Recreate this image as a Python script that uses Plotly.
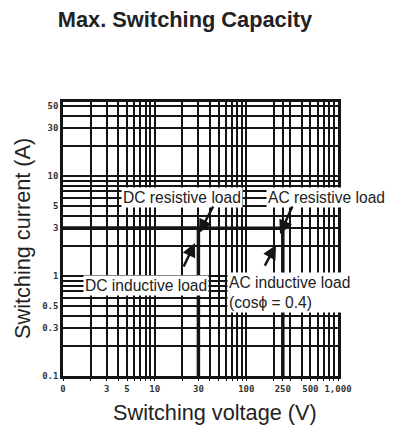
import numpy as np
import plotly.graph_objects as go

# ---- data ----
x_grid = [1, 2, 3, 4, 5, 6, 7, 8, 9, 10, 20, 30, 40, 50, 60, 70, 80, 90,
          100, 200, 250, 300, 400, 500, 600, 700, 800, 900, 1000]
x_labels = {1: "0", 3: "3", 5: "5", 10: "10", 30: "30", 100: "100",
            250: "250", 500: "500", 1000: "1,000"}
y_grid = [0.1, 0.2, 0.3, 0.4, 0.5, 0.6, 0.7, 0.8, 0.9,
          1, 2, 3, 4, 5, 6, 7, 8, 9, 10, 20, 30, 40, 50]
y_labels = {0.1: "0.1", 0.3: "0.3", 0.5: "0.5", 1: "1", 3: "3", 5: "5",
            10: "10", 30: "30", 50: "50"}

dc_voltage = [1, 30, 30]
dc_current = [3, 3, 0.1]
ac_voltage = [1, 250, 250]
ac_current = [3, 3, 0.1]

# arrow heads (voltage, current) of the pointer lines
dc_res_head = (30.45, 2.69)
dc_ind_head = (27.5, 2.14)
ac_res_head = (233, 2.63)
ac_ind_head = (210.7, 2.04)

INK = "#141414"
# the page body has an 8px margin: the figure is sized so that it fills the window
OFF = 8
W, H = 394 - OFF, 433 - OFF

fig = go.Figure()
fig.add_trace(go.Scatter(x=dc_voltage, y=dc_current, mode="lines",
                         line=dict(color=INK, width=3.5), showlegend=False,
                         hoverinfo="skip"))
fig.add_trace(go.Scatter(x=ac_voltage, y=ac_current, mode="lines",
                         line=dict(color=INK, width=3.5), showlegend=False,
                         hoverinfo="skip"))

tickfont = dict(family="DejaVu Sans Mono", size=9, color="#333", weight="bold")

fig.update_xaxes(type="log", range=[0, 3],
                 tickvals=x_grid,
                 ticktext=[x_labels.get(v, "") for v in x_grid],
                 showgrid=True, gridcolor=INK, gridwidth=2,
                 showline=True, linecolor=INK, linewidth=2.5, mirror=True,
                 ticks="outside", ticklen=2, tickcolor=INK,
                 tickfont=tickfont, tickangle=0)
fig.update_yaxes(type="log", range=[-1, 1.74],
                 tickvals=y_grid,
                 ticktext=[y_labels.get(v, "") for v in y_grid],
                 showgrid=True, gridcolor=INK, gridwidth=2,
                 showline=True, linecolor=INK, linewidth=2.5, mirror=True,
                 ticks="", ticklen=0,
                 tickfont=tickfont)

label_font = dict(family="Liberation Sans, Arial, sans-serif", size=15.6, color="#222")

fig.add_annotation(text="DC resistive load", xref="paper", yref="paper",
                   x=0.434, y=0.650, xanchor="center", yanchor="middle",
                   showarrow=False, bgcolor="white", font=label_font,
                   borderpad=1)
fig.add_annotation(text="AC resistive load", xref="paper", yref="paper",
                   x=(266 - 63) / 275, y=0.650, xanchor="left", yanchor="middle",
                   showarrow=False, bgcolor="white", font=label_font,
                   borderpad=1)
fig.add_annotation(text="DC inductive load", xref="paper", yref="paper",
                   x=0.30, y=0.332, xanchor="center", yanchor="middle",
                   showarrow=False, bgcolor="white", font=label_font,
                   borderpad=1)
fig.add_annotation(text="AC inductive load<br>(cosϕ = 0.4)", xref="paper", yref="paper",
                   x=0.596, y=0.303, xanchor="left", yanchor="middle", align="left",
                   showarrow=False, bgcolor="white", font=label_font,
                   borderpad=1)

arrows = [
    (dc_res_head, 15, -28),
    (dc_ind_head, -12, 25),
    (ac_res_head, 13, -29),
    (ac_ind_head, -12, 22),
]
for (v, c), ax, ay in arrows:
    fig.add_annotation(x=np.log10(v), y=np.log10(c), xref="x", yref="y",
                       ax=ax, ay=ay, showarrow=True, arrowhead=2,
                       arrowsize=1.1, arrowwidth=2.5, arrowcolor=INK, text="")

# axis titles
title_font = dict(family="Liberation Sans, Arial, sans-serif", size=21.7, color="#222")
fig.add_annotation(text="Switching voltage (V)", xref="paper", yref="paper",
                   x=(215 - 63) / 275, y=-(412 - 376) / 274,
                   xanchor="center", yanchor="middle", showarrow=False,
                   font=title_font)
fig.add_annotation(text="Switching current (A)", xref="paper", yref="paper",
                   x=-(63 - 22) / 275, y=0.5, textangle=-90,
                   xanchor="center", yanchor="middle", showarrow=False,
                   font=title_font)

fig.update_layout(
    width=W, height=H,
    margin=dict(l=63 - OFF, r=56, t=102 - OFF, b=57),
    paper_bgcolor="white", plot_bgcolor="white",
    title=dict(text="<b>Max. Switching Capacity</b>", x=(185 - OFF) / W, xanchor="center",
               y=1 - (19 - OFF) / H, yanchor="middle",
               font=dict(family="Liberation Sans, Arial, sans-serif", size=21.8, color="#222")),
)

fig.write_html("out.html")
